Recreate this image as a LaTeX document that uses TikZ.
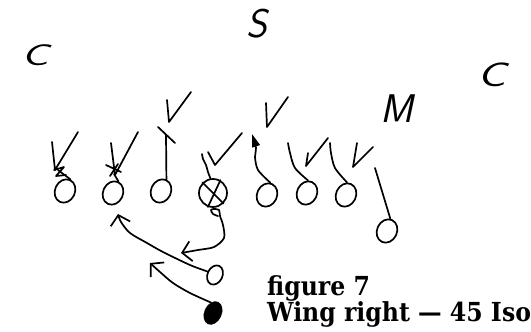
\documentclass[tikz,border=0pt]{standalone}
\usepackage{fontspec}
\newfontfamily\capfont[Ligatures=TeX, FakeStretch=0.9]{DejaVu Serif}
\usetikzlibrary{shapes.geometric,arrows.meta}
\tikzset{
  ink/.style={line width=1.7pt, line cap=round, line join=round},
  player/.style={ink, draw, ellipse, inner sep=0pt, minimum width=20pt, minimum height=24pt, rotate=-25},
  centerman/.style={ink, draw, circle, inner sep=0pt, minimum size=28pt},
  back/.style={ink, draw, ellipse, inner sep=0pt, minimum width=15pt, minimum height=20pt, rotate=-25},
  fullback/.style={draw, fill=black, ellipse, inner sep=0pt, minimum width=17pt, minimum height=24pt, rotate=-25},
  hand/.style={font=\sffamily\slshape\fontsize{#1}{#1}\selectfont, inner sep=0pt},
  defv/.style={ink},
  route/.style={ink, -{Straight Barb[length=9pt, width=20pt, line width=1.7pt]}},
  capt/.style={font=\capfont\bfseries\fontsize{26.2}{24}\selectfont, align=left, inner sep=0pt, anchor=north west}
}
\begin{document}
\begin{tikzpicture}[x=1pt, y=-1pt]
\useasboundingbox (0,0) rectangle (531,332);
% defenders (letters)
\node[hand=30, xscale=1.5] (cl) at (35,55) {C};
\node[hand=40] (s) at (257,24) {S};
\node[hand=34, xscale=1.4] (cr) at (492,75) {C};
\node[hand=40] (m) at (397,109) {M};
% defenders (V marks)
\draw[defv] (52,142) -- (55,170) -- (78,132);
\draw[defv] (111,143) -- (115,175) -- (138,132);
\draw[defv] (167,100) -- (169,122) -- (191,92);
\draw[defv] (208,152) -- (215,165) -- (242,133);
\draw[defv] (266,103) -- (267,127) -- (288,97);
\draw[defv] (308,153) -- (306,166) -- (328,138);
\draw[defv] (357,143) -- (353,167) -- (373,147);
% offense
\node[player] (p1) at (65,191) {};
\node[player] (p2) at (113,193) {};
\node[player] (p3) at (161,191) {};
\node[centerman] (c) at (213,193) {};
\draw[ink] (c.135) -- (c.-45) (c.60) -- (c.-110);
\node[player] (p5) at (267,195) {};
\node[player] (p6) at (307,193) {};
\node[player] (p7) at (346,195) {};
\node[player] (p8) at (387,231) {};
\node[back] (hb) at (215,275) {};
\node[fullback] (fb) at (213,313) {};
% line blocks
\coordinate (b1) at (58,170);
\draw[ink] (p1.north) -- (b1);
\draw[ink] (54,170) -- (64,167) -- (56,176) -- (66,175);
\coordinate (b2) at (114,174);
\draw[ink] (p2.north) -- (b2);
\draw[ink] (106,165) -- (121,172) (118,164) -- (110,176);
\coordinate (b3) at (166,135);
\draw[ink] (p3.north) -- (b3);
\draw[ink] (158,127) -- (175,143);
\draw[ink] plot[smooth] coordinates {(c.100) (208,172) (206,165) (203,159) (202,154)};
\draw[ink, -{Triangle[length=13pt, width=8pt]}] plot[smooth] coordinates {(p5.100) (258,170) (255,157) (256,148) (252,134)};
\draw[ink] plot[smooth] coordinates {(p6.110) (295,168) (290,153) (288,143)};
\draw[ink] plot[smooth] coordinates {(p7.110) (335,168) (331,153) (330,143)};
\coordinate (e8) at (375,168);
\draw[ink] (p8.100) -- (e8);
% backfield routes
\coordinate (hbend) at (118,214);
\draw[route] plot[smooth] coordinates {(hb.west) (190,265) (163,252) (147,243) (130,233) (121,222) (hbend)};
\coordinate (fbend) at (150,263);
\draw[route] plot[smooth] coordinates {(fb.north west) (190,293) (173,283) (160,272) (fbend)};
\coordinate (qb) at (214,209);
\coordinate (qbend) at (181,253);
\draw[route] plot[smooth] coordinates {(218,216) (213,214) (211,210) (qb) (219,210) (220,216) (223,225) (224,238) (214,247) (198,250) (qbend)};
% caption
\node[capt] (cap) at (267,275) {figure 7\\Wing right --- 45 Iso};
\end{tikzpicture}
\end{document}
